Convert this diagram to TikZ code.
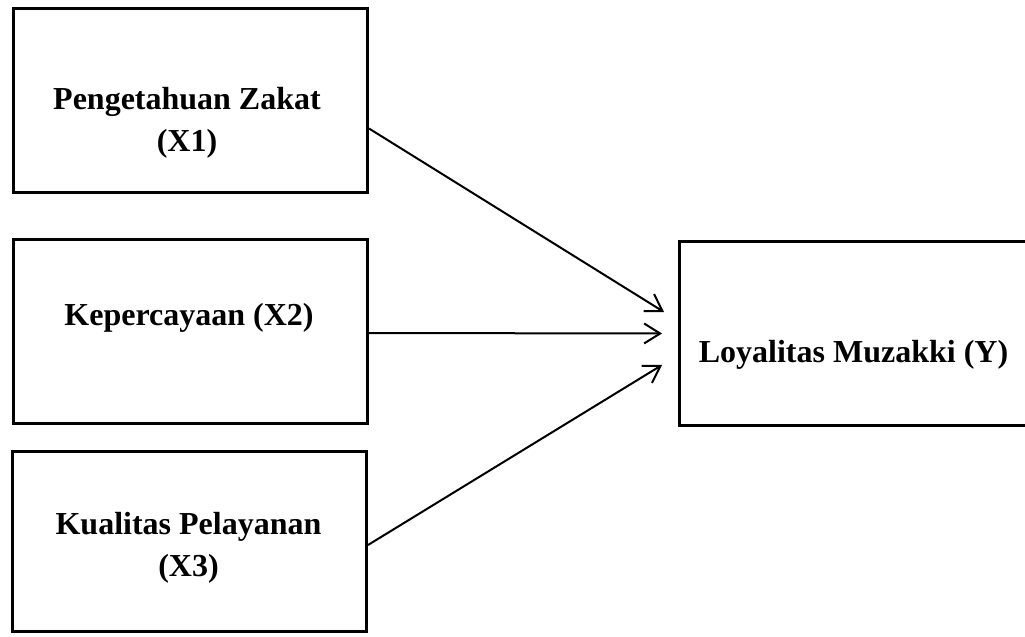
\documentclass[tikz,border=0pt]{standalone}
\usepackage{fontspec}
\setmainfont{Liberation Serif}
\usetikzlibrary{arrows.meta, positioning, calc}

\begin{document}
\begin{tikzpicture}[x=0.5pt, y=-0.5pt,
    varbox/.style={rectangle, draw, line width=1.5pt, minimum width=177pt, minimum height=92pt, inner sep=0pt},
    vartext/.style={align=center, inner sep=0pt, font=\bfseries\fontsize{16}{21}\selectfont},
    link/.style={-{Straight Barb[length=8pt, width=10pt]}, line width=1pt}
  ]
  \useasboundingbox (0,0) rectangle (1025,637);

  % Variable boxes
  \node[varbox] (X1) at (190.5,100.5) {};
  \node[varbox] (X2) at (190.5,331.5) {};
  \node[varbox, minimum height=90pt] (X3) at (189.5,541.5) {};
  \node[varbox] (Y) at (856,333.5) {};

  % Box texts
  \node[vartext] (X1txt) at (187,123) {Pengetahuan Zakat\\(X1)};
  \node[vartext] (X2txt) at (189,317.5) {Kepercayaan (X2)};
  \node[vartext] (X3txt) at (188.5,547.5) {Kualitas Pelayanan\\(X3)};
  \node[vartext] (Ytxt) at (853.5,354.5) {Loyalitas Muzakki (Y)};

  % Arrow ends in front of Y
  \coordinate (Yin1) at ($(Y.west)+(-13.5,-21.5)$);
  \coordinate (Yin2) at ($(Y.west)+(-15.5,0)$);
  \coordinate (Yin3) at ($(Y.west)+(-15.5,31.5)$);

  % Arrows
  \draw[link] ($(X1.east)+(0,28)$) -- (Yin1);
  \draw[link] ($(X2.east)+(0,1.5)$) -- (Yin2);
  \draw[link] ($(X3.east)+(0,3.5)$) -- (Yin3);

\end{tikzpicture}
\end{document}
